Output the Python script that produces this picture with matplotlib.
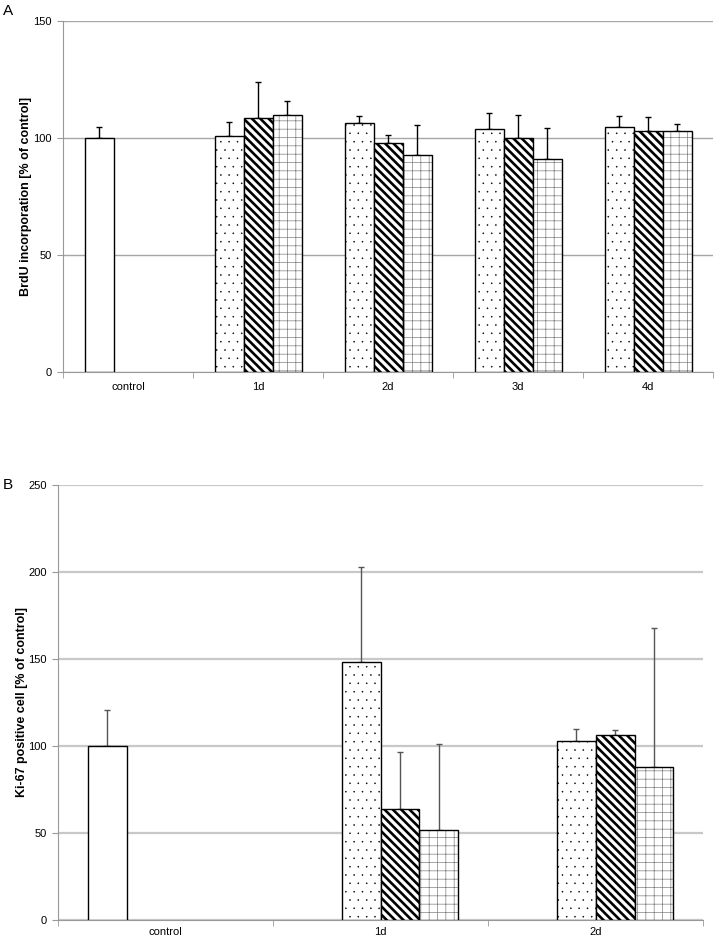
import matplotlib
matplotlib.use('Agg')
import matplotlib.pyplot as plt
import matplotlib.hatch as mhatch
import numpy as np

plt.rcParams['font.family'] = ['Liberation Sans', 'DejaVu Sans']

# smaller dots for the '.' hatch
mhatch.SmallFilledCircles.size = 0.07

# ---- panel A: BrdU ----
days_a = ['1d', '2d', '3d', '4d']
ctrl_a, ctrl_a_err = 100, 4.6
dots_a = [100.7, 106.4, 103.7, 104.6]
dots_a_err = [6.3, 3.0, 7.0, 4.9]
stripes_a = [108.4, 98.0, 100.1, 102.8]
stripes_a_err = [15.6, 3.4, 9.7, 6.2]
grid_a = [109.7, 92.7, 90.9, 102.8]
grid_a_err = [6.3, 13.0, 13.5, 3.0]

# ---- panel B: Ki-67 ----
days_b = ['1d', '2d']
ctrl_b, ctrl_b_err = 100, 20.4
dots_b = [148, 103]
dots_b_err = [54.8, 6.5]
stripes_b = [63.8, 106]
stripes_b_err = [32.9, 3.2]
grid_b = [51.5, 88]
grid_b_err = [49.5, 79.5]

fig = plt.figure(figsize=(7.16, 9.39), dpi=100)
axA = fig.add_axes([0.088, 0.6038, 0.908, 0.3738])
axB = fig.add_axes([0.081, 0.0202, 0.901, 0.4636])


def pattern_bars(ax, x, vals, errs, w, style, ecolor):
    if style == 'dots':
        with plt.rc_context({'hatch.linewidth': 0.3}):
            ax.bar(x, vals, w, color='white', edgecolor='black', hatch='..', lw=1, zorder=3)
    elif style == 'stripes':
        with plt.rc_context({'hatch.linewidth': 1.9}):
            ax.bar(x, vals, w, color='white', edgecolor='black', hatch='\\\\\\\\', lw=1, zorder=3)
    elif style == 'grid':
        with plt.rc_context({'hatch.linewidth': 0.5}):
            ax.bar(x, vals, w, color='white', edgecolor='#808080', hatch='++', lw=0, zorder=3)
        ax.bar(x, vals, w, fill=False, edgecolor='black', lw=1, zorder=3)
    else:
        ax.bar(x, vals, w, color='white', edgecolor='black', lw=1, zorder=3)
    ax.errorbar(x, vals, yerr=[np.zeros(len(vals)), errs], fmt='none',
                ecolor=ecolor, elinewidth=1, capsize=2.3, capthick=1, zorder=2)


def style_axis(ax, labels, ymax, gridcolor, gridlw, xpad):
    n = len(labels)
    ax.set_xlim(-0.5, n - 0.5)
    ax.set_ylim(0, ymax)
    ax.set_yticks(np.arange(0, ymax + 1, 50))
    ax.set_xticks(np.arange(n))
    ax.set_xticklabels(labels, fontsize=8)
    ax.set_xticks(np.arange(n + 1) - 0.5, minor=True)
    ax.tick_params(axis='x', which='major', length=0, pad=xpad)
    ax.tick_params(axis='x', which='minor', length=4, color='#999999', direction='out')
    ax.tick_params(axis='y', length=4, color='#999999', labelsize=8, pad=4)
    for s in ['top', 'right']:
        ax.spines[s].set_visible(False)
    for s in ['left', 'bottom']:
        ax.spines[s].set_color('#999999')
    ax.yaxis.grid(True, color=gridcolor, lw=gridlw, zorder=0)
    ax.set_axisbelow(True)


# panel A: 3 bar slots per category, control in the first slot
wA = 0.223
xa = np.arange(1, len(days_a) + 1)
pattern_bars(axA, [0 - wA], [ctrl_a], [ctrl_a_err], wA, 'plain', 'black')
pattern_bars(axA, xa - wA, dots_a, dots_a_err, wA, 'dots', 'black')
pattern_bars(axA, xa, stripes_a, stripes_a_err, wA, 'stripes', 'black')
pattern_bars(axA, xa + wA, grid_a, grid_a_err, wA, 'grid', 'black')
style_axis(axA, ['control'] + days_a, 150, '#a6a6a6', 1.0, 7)
axA.set_ylabel('BrdU incorporation [% of control]', fontsize=9, fontweight='bold', labelpad=1)

# panel B: 4 bar slots per category
wB = 0.181
xb = np.arange(1, len(days_b) + 1)
pattern_bars(axB, [0 - 1.5 * wB], [ctrl_b], [ctrl_b_err], wB, 'plain', '#555555')
pattern_bars(axB, xb - 0.5 * wB, dots_b, dots_b_err, wB, 'dots', '#555555')
pattern_bars(axB, xb + 0.5 * wB, stripes_b, stripes_b_err, wB, 'stripes', '#555555')
pattern_bars(axB, xb + 1.5 * wB, grid_b, grid_b_err, wB, 'grid', '#555555')
style_axis(axB, ['control'] + days_b, 250, '#c8c8c8', 1.6, 5)
axB.set_ylabel('Ki-67 positive cell [% of control]', fontsize=9, fontweight='bold', labelpad=0)

fig.text(0.004, 0.988, 'A', fontsize=11, va='center')
fig.text(0.004, 0.484, 'B', fontsize=11, va='center')

fig.savefig('out.png', dpi=100)
